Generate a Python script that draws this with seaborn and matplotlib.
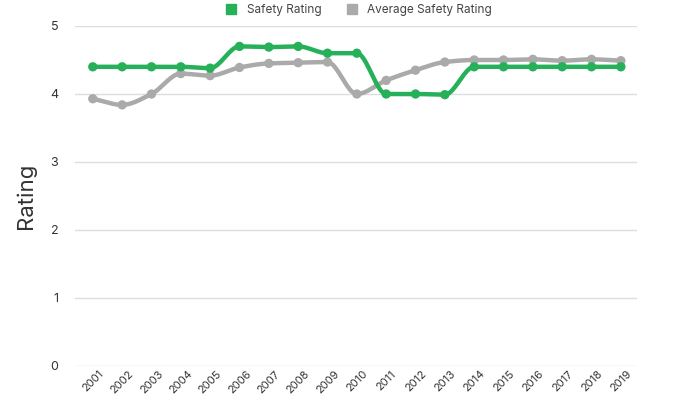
import numpy as np
import pandas as pd
import matplotlib
matplotlib.use('Agg')
import matplotlib.pyplot as plt
import seaborn as sns
from matplotlib.lines import Line2D

years = [str(y) for y in range(2001, 2020)]
safety = [4.4, 4.4, 4.4, 4.4, 4.38, 4.7, 4.69, 4.7, 4.6, 4.6, 4.0, 4.0, 3.99, 4.4, 4.4, 4.4, 4.4, 4.4, 4.4]
average = [3.93, 3.84, 4.0, 4.3, 4.27, 4.39, 4.45, 4.46, 4.47, 4.0, 4.2, 4.35, 4.47, 4.5, 4.5, 4.51, 4.49, 4.51, 4.49]
series_names = ['Safety Rating', 'Average Safety Rating']
colors = ['#27b05a', '#aaaaaa']


def monotone(y, n=20):
    # monotone cubic hermite between points (smooth line like the original)
    y = np.asarray(y, float)
    x = np.arange(len(y), dtype=float)
    d = np.diff(y)
    m = np.zeros_like(y)
    m[0], m[-1] = d[0], d[-1]
    for i in range(1, len(y) - 1):
        if d[i - 1] * d[i] <= 0:
            m[i] = 0
        else:
            m[i] = 2 / (1 / d[i - 1] + 1 / d[i])
    xs, ys = [], []
    for i in range(len(y) - 1):
        t = np.linspace(0, 1, n, endpoint=False)
        h00 = 2 * t**3 - 3 * t**2 + 1
        h10 = t**3 - 2 * t**2 + t
        h01 = -2 * t**3 + 3 * t**2
        h11 = t**3 - t**2
        xs.append(x[i] + t)
        ys.append(h00 * y[i] + h10 * m[i] + h01 * y[i + 1] + h11 * m[i + 1])
    xs.append([x[-1]])
    ys.append([y[-1]])
    return np.concatenate(xs), np.concatenate(ys)


sns.set_style('white')
plt.rcParams['font.family'] = ['Inter', 'DejaVu Sans']

fig = plt.figure(figsize=(7, 4), dpi=100)
ax = fig.add_axes([0.107, 0.085, 0.803, 0.85])

for vals, name, c in zip([safety, average], series_names, colors):
    sx, sy = monotone(vals)
    sns.lineplot(x=sx, y=sy, ax=ax, color=c, linewidth=3.2, zorder=3 if c == colors[0] else 2)
    pts = pd.DataFrame({'x': np.arange(len(years)), 'y': vals})
    sns.scatterplot(data=pts, x='x', y='y', ax=ax, color=c, s=45, edgecolor='none',
                    zorder=4 if c == colors[0] else 2.5)

ax.set_ylim(0, 5)
ax.set_xlim(-0.61, 18.55)
ax.set_yticks([0, 1, 2, 3, 4, 5])
ax.set_xticks(range(len(years)))
ax.set_xticklabels(years, rotation=45, fontsize=8, color='#333333')
ax.tick_params(axis='y', labelsize=9, colors='#333333', length=0, pad=12)
ax.tick_params(axis='x', length=0, pad=2)
ax.grid(axis='y', color='#dddddd', linewidth=1)
ax.set_axisbelow(True)
for s in ax.spines.values():
    s.set_visible(False)
ax.set_xlabel('')
ax.set_ylabel('Rating', fontsize=16, color='#333333', labelpad=10)

handles = [Line2D([], [], marker='s', linestyle='none', color=c, markersize=7) for c in colors]
ax.legend(handles, series_names, loc='upper center', bbox_to_anchor=(0.5, 1.095), ncol=2,
          frameon=False, fontsize=8.5, handletextpad=0.3, columnspacing=1.6, labelcolor='#444444')

fig.savefig('out.png', dpi=100)
